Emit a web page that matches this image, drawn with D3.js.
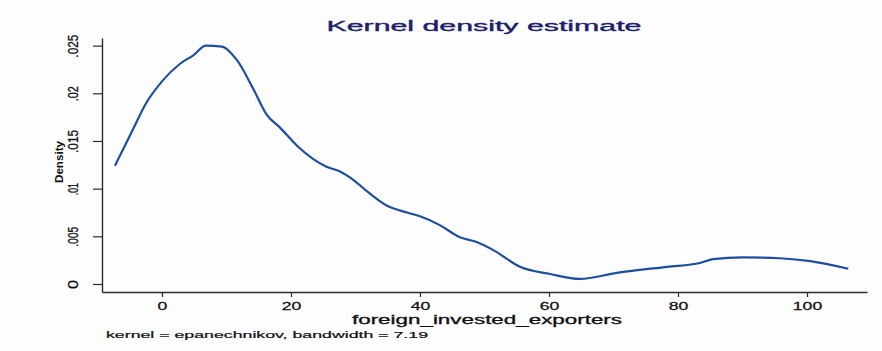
<!DOCTYPE html>
<html>
<head>
<meta charset="utf-8">
<script src="https://cdn.jsdelivr.net/npm/d3@7"></script>
<style>
  html, body { margin: 0; padding: 0; background: #fdfdfd; }
  svg { display: block; }
  text { font-family: "Liberation Sans", Arial, sans-serif; }
</style>
</head>
<body>
<svg id="chart" width="882" height="351"></svg>
<script>
// Kernel density estimate of foreign_invested_exporters (evaluation grid)
const gridX = [-7.3, -4.5, -2.6, 0, 2.8, 4.9, 6.8, 9.3, 11.6, 14.2, 16.2, 18.3, 21.1,
  25.5, 27.6, 29.5, 32, 34.9, 38, 40, 43, 46.2, 48.8, 51.5, 55.5, 60.2, 64.8,
  70.5, 78.3, 83.4, 85.4, 90.1, 95.8, 100.5, 106.4];
const density = [0.0124, 0.0162, 0.0188, 0.02125, 0.0231, 0.0240, 0.0250, 0.0249,
  0.0235, 0.0204, 0.0178, 0.0164, 0.0144, 0.0123, 0.0118, 0.0110, 0.0096, 0.0082,
  0.0075, 0.0071, 0.0062, 0.0049, 0.0044, 0.0035, 0.0018, 0.00105, 0.00053,
  0.00116, 0.0018, 0.0022, 0.0026, 0.0028, 0.0027, 0.0024, 0.0016];

const xTicks = [0, 20, 40, 60, 80, 100];
const yTicks = [0, 0.005, 0.01, 0.015, 0.02, 0.025];
const yTickLen = { "0": 9, ".005": 20, ".01": 12, ".015": 23, ".02": 15, ".025": 23 };

const titleText = "Kernel density estimate";
const xTitle = "foreign_invested_exporters";
const yTitle = "Density";
const note = "kernel = epanechnikov, bandwidth = 7.19";

const svg = d3.select("#chart");

const x = d3.scaleLinear().domain([-9.3, 109.3]).range([102, 867]);
const y = d3.scaleLinear().domain([-0.00084, 0.0258]).range([292, 38]);

const fmtY = d => d === 0 ? "0" : d3.format(".3~f")(d).replace(/^0/, "");

// x axis
const gx = svg.append("g")
  .attr("transform", `translate(0,${y.range()[0]})`)
  .call(d3.axisBottom(x).tickValues(xTicks).tickSize(5).tickSizeOuter(0).tickFormat(d3.format("d")));
gx.select(".domain").attr("stroke", "#2b2b2b").attr("stroke-width", 1.4);
gx.selectAll(".tick line").attr("stroke", "#2b2b2b").attr("stroke-width", 1.2);
gx.selectAll(".tick text")
  .attr("y", null).attr("dy", null)
  .attr("font-size", 11)
  .attr("fill", "#111")
  .attr("stroke", "#111").attr("stroke-width", 0.25)
  .attr("transform", "translate(0,17.5) scale(1.6,1)");

// y axis
const gy = svg.append("g")
  .attr("transform", `translate(${x.range()[0]},0)`)
  .call(d3.axisLeft(y).tickValues(yTicks).tickSize(9).tickSizeOuter(0).tickFormat(fmtY));
gy.select(".domain").attr("stroke", "#2b2b2b").attr("stroke-width", 1.4);
gy.selectAll(".tick line").attr("stroke", "#2b2b2b").attr("stroke-width", 1.2);
gy.selectAll(".tick text")
  .attr("x", null).attr("dy", null)
  .attr("text-anchor", "middle")
  .attr("font-size", 14)
  .attr("fill", "#111")
  .attr("stroke", "#111").attr("stroke-width", 0.3)
  .attr("textLength", d => yTickLen[fmtY(d)])
  .attr("lengthAdjust", "spacingAndGlyphs")
  .attr("transform", "translate(-24,0) rotate(-90)");
svg.selectAll(".domain").attr("fill", "none");

// density curve
const line = d3.line()
  .x((d, i) => x(gridX[i]))
  .y(d => y(d))
  .curve(d3.curveMonotoneX);
svg.append("path")
  .datum(density)
  .attr("d", line)
  .attr("fill", "none")
  .attr("stroke", "#1d4f9e")
  .attr("stroke-width", 2.2)
  .attr("stroke-linejoin", "round");

// titles and note
svg.append("text")
  .attr("x", 484).attr("y", 31)
  .attr("text-anchor", "middle")
  .attr("font-size", 14)
  .attr("fill", "#1e1f6b")
  .attr("stroke", "#1e1f6b").attr("stroke-width", 0.35)
  .attr("textLength", 315)
  .attr("lengthAdjust", "spacingAndGlyphs")
  .text(titleText);

svg.append("text")
  .attr("x", 487).attr("y", 324)
  .attr("text-anchor", "middle")
  .attr("font-size", 12)
  .attr("fill", "#111")
  .attr("stroke", "#111").attr("stroke-width", 0.3)
  .attr("textLength", 270)
  .attr("lengthAdjust", "spacingAndGlyphs")
  .text(xTitle);

svg.append("text")
  .attr("transform", "translate(63,162) rotate(-90)")
  .attr("text-anchor", "middle")
  .attr("font-size", 11)
  .attr("font-weight", "bold")
  .attr("fill", "#111")
  .attr("textLength", 42)
  .attr("lengthAdjust", "spacingAndGlyphs")
  .text(yTitle);

svg.append("text")
  .attr("x", 106).attr("y", 338)
  .attr("font-size", 9)
  .attr("fill", "#111")
  .attr("stroke", "#111").attr("stroke-width", 0.2)
  .attr("textLength", 322)
  .attr("lengthAdjust", "spacingAndGlyphs")
  .text(note);
</script>
</body>
</html>
